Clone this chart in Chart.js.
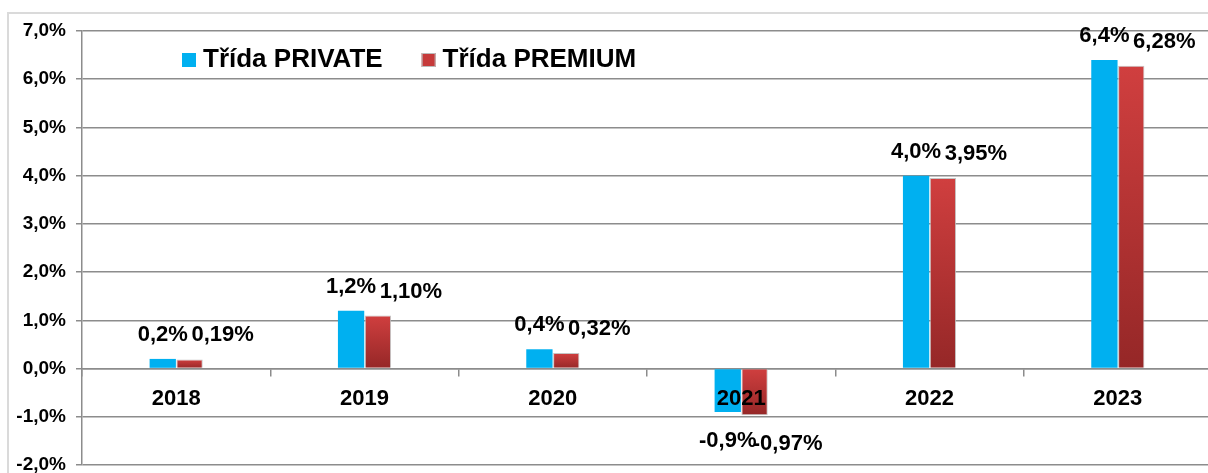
<!DOCTYPE html>
<html>
<head>
<meta charset="utf-8">
<script src="https://cdn.jsdelivr.net/npm/chart.js@4.4.1/dist/chart.umd.min.js"></script>
<style>
  html, body { margin: 0; padding: 0; background: #fff; overflow: hidden; width: 1208px; height: 473px; }
  #wrap { position: relative; width: 1230px; height: 490px; }
</style>
</head>
<body>
<div id="wrap"><canvas id="c" width="1230" height="490"></canvas></div>
<script>
// ---- data ----
const years = ['2018', '2019', '2020', '2021', '2022', '2023'];
const privateValues = [0.2, 1.2, 0.4, -0.9, 4.0, 6.4];
const premiumValues = [0.19, 1.10, 0.32, -0.97, 3.95, 6.28];
const seriesNames = ['Třída PRIVATE', 'Třída PREMIUM'];
const labelDecimals = [1, 2];
const yTicksMin = -2, yTicksMax = 7, yTicksStep = 1;

const FONT = "'Liberation Sans', Arial, sans-serif";
const GRID = '#8c8c8c';
const BLUE = '#00b0f0';

function pct(v, d) { return v.toFixed(d).replace('.', ',') + '%'; }

function redGradient(context) {
  const chart = context.chart;
  const ys = chart.scales.y;
  if (!ys || context.type !== 'data') return '#c43838';
  const v = context.raw;
  const p1 = ys.getPixelForValue(v), p0 = ys.getPixelForValue(0);
  if (!isFinite(p1) || !isFinite(p0)) return '#c43838';
  const top = Math.min(p0, p1), bot = Math.max(p0, p1);
  if (bot - top < 1) return '#c43838';
  const g = chart.ctx.createLinearGradient(0, top, 0, bot);
  g.addColorStop(0, '#d03f3f');
  g.addColorStop(1, '#952727');
  return g;
}

const framePlugin = {
  id: 'frame',
  beforeDraw(chart) {
    const ctx = chart.ctx;
    ctx.save();
    ctx.strokeStyle = '#dadada';
    ctx.lineWidth = 2;
    ctx.beginPath();
    ctx.moveTo(8, chart.height);
    ctx.lineTo(8, 13);
    ctx.lineTo(chart.width, 13);
    ctx.stroke();
    ctx.restore();
  }
};

const labelPlugin = {
  id: 'valueLabels',
  afterDatasetsDraw(chart) {
    const ctx = chart.ctx;
    ctx.save();
    ctx.font = 'bold 22px ' + FONT;
    ctx.fillStyle = '#000';
    ctx.textAlign = 'center';
    ctx.textBaseline = 'middle';
    chart.data.datasets.forEach((ds, di) => {
      const meta = chart.getDatasetMeta(di);
      meta.data.forEach((bar, i) => {
        const v = ds.data[i];
        const x = bar.x + (di === 1 ? 33 : 0);
        const y = v >= 0 ? bar.y - 24 : bar.y + 29;
        ctx.fillText(pct(v, labelDecimals[di]), x, y);
      });
    });
    ctx.restore();
  }
};

const legendPlugin = {
  id: 'insideLegend',
  afterDraw(chart) {
    const ctx = chart.ctx;
    ctx.save();
    ctx.font = 'bold 26px ' + FONT;
    ctx.textBaseline = 'alphabetic';
    let x = 182;
    const colors = [BLUE, '#c63a3a'];
    chart.data.datasets.forEach((ds, di) => {
      ctx.fillStyle = colors[di];
      ctx.fillRect(x, 53, 14, 14);
      if (di === 1) { ctx.strokeStyle = '#bbbbbb'; ctx.lineWidth = 1; ctx.strokeRect(x + 0.5, 53.5, 13, 13); }
      ctx.fillStyle = '#000';
      ctx.fillText(ds.label, x + 21, 67);
      x = x + 21 + ctx.measureText(ds.label).width + 39;
    });
    ctx.restore();
  }
};

new Chart(document.getElementById('c'), {
  type: 'bar',
  data: {
    labels: years,
    datasets: [
      { label: seriesNames[0], data: privateValues, backgroundColor: BLUE, borderWidth: 0 },
      { label: seriesNames[1], data: premiumValues, backgroundColor: redGradient, borderColor: 'rgba(190,190,190,0.9)', borderWidth: 1 }
    ]
  },
  options: {
    responsive: false,
    animation: false,
    devicePixelRatio: 1,
    layout: { padding: { left: 8, right: 18, top: 31, bottom: 25 } },
    datasets: { bar: { categoryPercentage: 0.285, barPercentage: 0.98 } },
    plugins: { legend: { display: false }, tooltip: { enabled: false }, title: { display: false } },
    scales: {
      x: {
        position: { y: 0 },
        grid: { offset: true, drawOnChartArea: false, drawTicks: true, tickLength: 7, color: GRID, lineWidth: 1.5 },
        border: { display: true, color: GRID, width: 1.5 },
        ticks: { z: 1, color: '#000', font: { family: FONT, size: 22, weight: 'bold' }, padding: 10, maxRotation: 0, autoSkip: false }
      },
      y: {
        min: yTicksMin, max: yTicksMax,
        afterFit(s) { s.width = 74; },
        grid: { color: GRID, lineWidth: 1.5, drawTicks: true, tickLength: 6 },
        border: { display: true, color: GRID, width: 1.5 },
        ticks: {
          stepSize: yTicksStep,
          color: '#000',
          font: { family: FONT, size: 19, weight: 'bold' },
          padding: 10,
          callback: v => pct(v, 1)
        }
      }
    }
  },
  plugins: [framePlugin, labelPlugin, legendPlugin]
});
</script>
</body>
</html>
